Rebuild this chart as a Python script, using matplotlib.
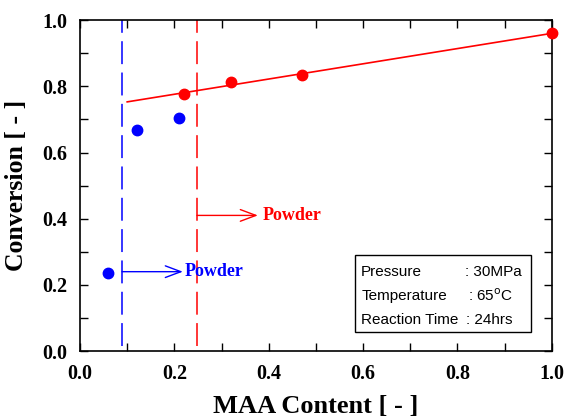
import matplotlib
matplotlib.use("Agg")
import matplotlib.pyplot as plt
from matplotlib.ticker import MultipleLocator

# data
blue_x = [0.06, 0.12, 0.21]
blue_y = [0.237, 0.668, 0.705]
red_x = [0.22, 0.32, 0.47, 1.0]
red_y = [0.777, 0.812, 0.835, 0.960]
fit_x = [0.10, 1.0]
fit_y = [0.753, 0.960]
blue_limit = 0.089
red_limit = 0.248
blue_arrow_y = 0.24
red_arrow_y = 0.41
conditions = ["Pressure", "Temperature", "Reaction Time"]
cond_values = [": 30MPa", ": 65$^{\\mathrm{o}}$C", ": 24hrs"]

serif = ["Liberation Serif", "DejaVu Serif"]
sans = ["Liberation Sans", "DejaVu Sans"]

fig = plt.figure(figsize=(5.65, 4.19), dpi=100)
ax = fig.add_axes([0.1416, 0.162, 0.835, 0.790])

ax.plot(fit_x, fit_y, color="red", lw=1.2)
ax.plot(red_x, red_y, "o", color="red", ms=7.5, clip_on=False, zorder=5)
ax.plot(blue_x, blue_y, "o", color="blue", ms=7.5, clip_on=False, zorder=5)

ax.plot([blue_limit, blue_limit], [0.015, 1.0], color="blue", lw=1.1,
        dashes=(15, 5.5))
ax.plot([red_limit, red_limit], [0.015, 1.0], color="red", lw=1.1,
        dashes=(15, 5.5))

arrow_style = "->,head_width=0.3,head_length=0.8"
ax.annotate("", xy=(0.218, blue_arrow_y), xytext=(blue_limit, blue_arrow_y),
            arrowprops=dict(arrowstyle=arrow_style, color="blue", lw=1.0,
                            shrinkA=0, shrinkB=0, mutation_scale=14))
ax.text(0.221, blue_arrow_y, "Powder", color="blue", fontsize=13,
        fontweight="bold", family=serif, va="center", ha="left")
ax.annotate("", xy=(0.377, red_arrow_y), xytext=(red_limit, red_arrow_y),
            arrowprops=dict(arrowstyle=arrow_style, color="red", lw=1.0,
                            shrinkA=0, shrinkB=0, mutation_scale=14))
ax.text(0.388, red_arrow_y, "Powder", color="red", fontsize=13,
        fontweight="bold", family=serif, va="center", ha="left")

# conditions box
box = plt.Rectangle((0.583, 0.057), 0.372, 0.233, transform=ax.transAxes,
                    fill=False, lw=1.0, color="black")
ax.add_patch(box)
row_y = [0.239, 0.166, 0.094]
value_x = [0.815, 0.822, 0.818]
label_x = 0.596
for c, v, yy, vx in zip(conditions, cond_values, row_y, value_x):
    ax.text(label_x, yy, c, transform=ax.transAxes, fontsize=11,
            family=sans, va="center", ha="left")
    ax.text(vx, yy, v, transform=ax.transAxes, fontsize=11,
            family=sans, va="center", ha="left")

ax.set_xlim(0, 1.0)
ax.set_ylim(0, 1.0)
ax.xaxis.set_major_locator(MultipleLocator(0.2))
ax.xaxis.set_minor_locator(MultipleLocator(0.1))
ax.yaxis.set_major_locator(MultipleLocator(0.2))
ax.yaxis.set_minor_locator(MultipleLocator(0.1))
ax.tick_params(which="both", direction="in", top=True, right=True,
               width=1.0, length=6)
ax.tick_params(labelsize=14.5, pad=9)
for lab in ax.get_xticklabels() + ax.get_yticklabels():
    lab.set_family(serif)
    lab.set_fontweight("bold")
for s in ax.spines.values():
    s.set_linewidth(1.2)

ax.set_xlabel("MAA Content [ - ]", fontsize=19, fontweight="bold",
              family=serif, labelpad=8)
ax.set_ylabel("Conversion [ - ]", fontsize=18.5, fontweight="bold",
              family=serif, labelpad=10)

fig.savefig("out.png", dpi=100)
